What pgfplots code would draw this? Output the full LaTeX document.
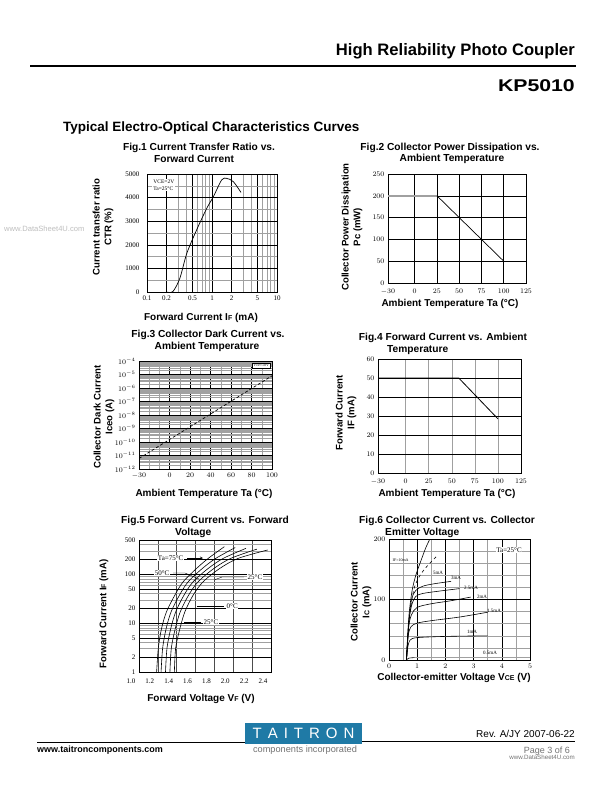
\documentclass[border=0pt]{standalone}
\usepackage{pgfplots}
\pgfplotsset{compat=1.18}
\usepackage{fontspec}
\setmainfont{Liberation Sans}
\newfontfamily\tickfont{Liberation Serif}
\definecolor{taiblue}{RGB}{31,122,166}
\definecolor{gridgray}{RGB}{160,160,160}

\pgfplotsset{
  sheet/.style={
    scale only axis, anchor=north west,
    axis line style={black, line width=0.8pt},
    tick style={draw=none},
    tick label style={font=\tickfont\fontsize{7}{8}\selectfont},
    major grid style={black, line width=0.5pt},
    minor grid style={gridgray, line width=0.5pt},
    every axis plot/.append style={black, line width=0.6pt, mark=none},
  },
}
\newcommand{\ftitle}{\bfseries\fontsize{10.2}{12}\selectfont}
\newcommand{\flabel}{\bfseries\fontsize{9.6}{11.8}\selectfont}
\newcommand{\xlab}{\bfseries\fontsize{10}{12}\selectfont}
\newcommand{\sm}[1]{{\fontsize{7}{8}\selectfont #1}}

\begin{document}
\begin{tikzpicture}[x=1pt,y=1pt]
\useasboundingbox (0,0) rectangle (612,-792);
\fill[white] (0,0) rectangle (612,-792);

% page header
\node[anchor=base east, inner sep=0, font=\bfseries\fontsize{16.6}{18}\selectfont] at (575,-56) {High Reliability Photo Coupler};
\draw[line width=1.6pt] (30,-66) -- (576,-66);
\node[anchor=base east, inner sep=0, font=\bfseries\fontsize{17}{19}\selectfont] at (575,-92) {\scalebox{1.25}[1]{KP5010}};
\node[anchor=base west, inner sep=0, font=\bfseries\fontsize{13.5}{15}\selectfont] at (63,-131) {Typical Electro-Optical Characteristics Curves};
\node[anchor=base west, inner sep=0, text=black!25, font=\fontsize{7.6}{8}\selectfont] at (4,-231) {www.DataSheet4U.com};

% ---------- Fig.1 ----------
\node[anchor=base, inner sep=0, font=\ftitle] at (199,-150) {Fig.1 Current Transfer Ratio vs.};
\node[anchor=base, inner sep=0, font=\ftitle] at (194,-162) {Forward Current};
\node[rotate=90, align=center, font=\flabel] at (103,-227) {Current transfer ratio\\CTR (\%)};
\node[anchor=base, inner sep=0, font=\xlab] at (201,-320) {Forward Current I\sm{F} (mA)};
\begin{axis}[sheet, at={(147pt,-174pt)}, width=130pt, height=118pt,
  xmode=log, xmin=0.1, xmax=10, ymin=0, ymax=5000,
  xtick={0.1,0.2,0.5,1,2,5,10}, xticklabels={0.1,0.2,0.5,1,2,5,10},
  minor xtick={0.3,0.4,0.6,0.7,0.8,0.9,3,4,6,7,8,9},
  ytick={0,1000,2000,3000,4000,5000},
  yticklabels={0,1000,2000,3000,4000,5000},
  yticklabel style={xshift=-4pt},
  minor ytick={500,1500,2500,3500,4500},
  grid=both]
\addplot[smooth, line width=0.7pt] coordinates {
  (0.20,0) (0.25,20) (0.32,580) (0.41,1640) (0.58,2630) (0.83,3545)
  (1.05,4040) (1.41,4750) (1.68,4815) (2.13,4675) (2.79,4220)};
\node[anchor=north west, align=left, fill=white, inner sep=1pt, font=\tickfont\fontsize{5.5}{6.5}\selectfont]
  at (rel axis cs:0.04,0.96) {VCE=2V\\Ta=25°C};
\end{axis}

% ---------- Fig.2 ----------
\node[anchor=base, inner sep=0, font=\ftitle] at (450,-150) {Fig.2 Collector Power Dissipation vs.};
\node[anchor=base, inner sep=0, font=\ftitle] at (452,-161) {Ambient Temperature};
\node[rotate=90, align=center, font=\flabel] at (352,-227) {Collector Power Dissipation\\Pc (mW)};
\node[anchor=base, inner sep=0, font=\xlab] at (450,-306) {Ambient Temperature Ta (°C)};
\begin{axis}[sheet, at={(388pt,-174pt)}, width=138pt, height=109pt,
  xmin=-30, xmax=125, ymin=0, ymax=250,
  xtick={-30,0,25,50,75,100,125}, ytick={0,50,100,150,200,250},
  xticklabel style={yshift=-2pt},
  grid=major]
\addplot[gridgray, line width=1.5pt] coordinates {(-30,200) (25,200)};
\addplot[line width=0.7pt] coordinates {(25,200) (100,50)};
\end{axis}

% ---------- Fig.3 ----------
\node[anchor=base, inner sep=0, font=\ftitle] at (208,-337) {Fig.3 Collector Dark Current vs.};
\node[anchor=base, inner sep=0, font=\ftitle] at (207,-349) {Ambient Temperature};
\node[rotate=90, align=center, font=\flabel] at (104,-417) {Collector Dark Current\\Iceo (A)};
\node[anchor=base, inner sep=0, font=\xlab] at (204,-496) {Ambient Temperature Ta (°C)};
\begin{axis}[sheet, at={(139pt,-361pt)}, width=133pt, height=108pt,
  ymode=log, xmin=-30, xmax=100, ymin=1e-12, ymax=1e-4,
  xtick={-30,0,20,40,60,80,100}, minor xtick={-20,-10,10,30,50,70,90},
  ytick={1e-12,1e-11,1e-10,1e-9,1e-8,1e-7,1e-6,1e-5,1e-4},
  grid=both]
\addplot[densely dashed, line width=0.7pt] coordinates {(-30,6e-12) (100,8e-6)};
\node[anchor=north east, draw=black, fill=white, inner sep=1.5pt, font=\tickfont\fontsize{4}{5}\selectfont]
  at (rel axis cs:0.99,0.985) {Vce=10V};
\end{axis}

% ---------- Fig.4 ----------
\node[anchor=base, inner sep=0, font=\ftitle] at (443,-340) {Fig.4 Forward Current vs. Ambient};
\node[anchor=base west, inner sep=0, font=\ftitle] at (387,-352) {Temperature};
\node[rotate=90, align=center, font=\flabel] at (346,-413) {Forward Current\\IF (mA)};
\node[anchor=base, inner sep=0, font=\xlab] at (447,-496) {Ambient Temperature Ta (°C)};
\begin{axis}[sheet, at={(378pt,-359pt)}, width=143pt, height=114pt,
  xmin=-30, xmax=125, ymin=0, ymax=60,
  xtick={-30,0,25,50,75,100,125}, ytick={0,10,20,30,40,50,60},
  xticklabel style={yshift=-2pt},
  grid=major, x grid style={gridgray, line width=0.6pt}]
\addplot[line width=0.8pt] coordinates {(-30,50) (57.5,50) (100,28.5)};
\end{axis}

% ---------- Fig.5 ----------
\node[anchor=base, inner sep=0, font=\ftitle] at (205,-523) {Fig.5 Forward Current vs. Forward};
\node[anchor=base west, inner sep=0, font=\ftitle] at (175,-535) {Voltage};
\node[rotate=90, font=\flabel] at (104,-614) {Forward Current I\sm{F} (mA)};
\node[anchor=base, inner sep=0, font=\xlab] at (201,-701) {Forward Voltage V\sm{F} (V)};
\begin{axis}[sheet, at={(139pt,-540pt)}, width=132pt, height=132pt,
  ymode=log, xmin=1.0, xmax=2.4, ymin=1, ymax=500,
  xtick={1.0,1.2,1.4,1.6,1.8,2.0,2.2,2.4},
  xticklabels={1.0,1.2,1.4,1.6,1.8,2.0,2.2,2.4},
  xticklabel style={xshift=-8pt, yshift=-3pt},
  ytick={1,2,5,10,20,50,100,200,500},
  yticklabels={1,2,5,10,20,50,100,200,500},
  minor ytick={3,4,6,7,8,9,30,40,60,70,80,90,300,400},
  grid=both, x grid style={black!70}]
% Ta = 75, 50, 25, 0, -25 C
\addplot[smooth] coordinates {(1.187,1) (1.205,3.1) (1.240,7.9) (1.293,17.3) (1.382,37.8) (1.470,70.6) (1.612,132) (1.735,211) (1.905,365)};
\addplot[smooth] coordinates {(1.234,1) (1.251,3.1) (1.289,7.9) (1.342,17.3) (1.431,37.8) (1.523,70.6) (1.674,132) (1.815,211) (2.020,350)};
\addplot[smooth] coordinates {(1.281,1) (1.297,3.1) (1.338,7.9) (1.391,17.3) (1.479,37.8) (1.576,70.6) (1.736,132) (1.894,211) (2.135,338)};
\addplot[smooth] coordinates {(1.328,1) (1.343,3.1) (1.386,7.9) (1.439,17.3) (1.528,37.8) (1.629,70.6) (1.797,132) (1.974,211) (2.250,325)};
\addplot[smooth] coordinates {(1.375,1) (1.389,3.1) (1.435,7.9) (1.488,17.3) (1.576,37.8) (1.682,70.6) (1.859,132) (2.053,211) (2.365,313)};
\end{axis}
\begin{scope}[font=\tickfont\fontsize{7}{8}\selectfont]
\node[anchor=east, inner sep=0.5pt, fill=white] at (184,-558) {Ta=75°C};
\draw[->, >=stealth] (187,-558) -- (203,-558);
\node[anchor=east, inner sep=0.5pt, fill=white] at (170,-573) {50°C};
\draw (173,-573) -- (185,-573) -- (199,-579);
\node[anchor=west, inner sep=0.5pt, fill=white] at (247,-577) {25°C};
\draw (244,-577) -- (222,-577) -- (214,-580);
\node[anchor=west, inner sep=0.5pt, fill=white] at (226,-606) {0°C};
\draw (224,-606) -- (197,-606);
\node[anchor=west, inner sep=0.5pt, fill=white] at (203,-622) {25°C};
\draw (201,-622) -- (184,-622);
\end{scope}

% ---------- Fig.6 ----------
\node[anchor=base, inner sep=0, font=\ftitle] at (447,-523) {Fig.6 Collector Current vs. Collector};
\node[anchor=base west, inner sep=0, font=\ftitle] at (385,-535) {Emitter Voltage};
\node[rotate=90, align=center, font=\flabel] at (361,-602) {Collector Current\\I\sm{C} (mA)};
\node[anchor=base, inner sep=0, font=\xlab] at (454,-680) {Collector-emitter Voltage V\sm{CE} (V)};
\begin{axis}[sheet, at={(389pt,-539pt)}, width=141pt, height=121pt,
  xmin=0, xmax=5, ymin=0, ymax=200,
  xtick={0,1,2,3,4,5}, minor xtick={0.5,1.5,2.5,3.5,4.5},
  ytick={0,100,200}, minor ytick={20,40,60,80,120,140,160,180},
  grid=both]
\addplot[smooth] coordinates {(0.62,0) (0.66,40) (0.72,80) (0.82,115) (0.95,140) (1.1,160) (1.3,185) (1.45,200)};
\addplot[smooth, dashed] coordinates {(0.62,0) (0.68,50) (0.78,90) (0.9,120) (1.1,140) (1.35,155) (1.7,172)};
\addplot[smooth] coordinates {(0.62,0) (0.7,60) (0.8,100) (0.95,115) (1.2,122) (1.6,126) (2.2,130)};
\addplot[smooth] coordinates {(0.62,0) (0.7,60) (0.8,90) (0.95,105) (1.2,110) (1.8,114) (2.5,118)};
\addplot[smooth] coordinates {(0.62,0) (0.7,55) (0.8,75) (1.0,87) (1.5,93) (2.2,98) (2.9,104)};
\addplot[smooth] coordinates {(0.62,0) (0.68,40) (0.78,55) (1.0,61) (1.5,65) (2.5,71) (3.5,79)};
\addplot[smooth] coordinates {(0.62,0) (0.66,20) (0.75,33) (1.0,37) (2.0,39) (3.5,40)};
\addplot[line width=1.2pt, gridgray] coordinates {(0.9,4) (5,4)};
\addplot[smooth] coordinates {(0.62,0) (0.7,3) (0.9,4)};
\end{axis}
\begin{scope}[font=\tickfont\fontsize{5}{6}\selectfont, inner sep=0.5pt]
\node at (438,-573) {5mA};
\node at (456,-578) {3mA};
\node at (471,-588) {2.5mA};
\node at (482,-597) {2mA};
\node at (494,-611) {1.5mA};
\node at (472,-632) {1mA};
\node at (490,-653) {0.5mA};
\node[font=\tickfont\fontsize{4}{5}\selectfont, anchor=west] at (392,-560) {IF=10mA};
\node[font=\tickfont\fontsize{7}{8}\selectfont, fill=white] at (509,-550) {Ta=25°C};
\end{scope}

% ---------- footer ----------
\node[anchor=base east, inner sep=0, font=\fontsize{10}{11}\selectfont] at (575,-737) {Rev. A/JY 2007-06-22};
\draw[line width=1pt] (37,-742) -- (245,-742);
\draw[line width=1pt] (362,-741) -- (575,-741);
\fill[taiblue] (245,-723) rectangle (362,-744);
\node[text=white, font=\fontsize{15}{16}\selectfont, inner sep=0] at (303.5,-733.5) {T\hspace{6pt}A\hspace{6pt}I\hspace{6pt}T\hspace{6pt}R\hspace{6pt}O\hspace{6pt}N};
\node[anchor=base, inner sep=0, text=black!55, font=\fontsize{9.2}{10}\selectfont] at (305,-752) {components incorporated};
\node[anchor=base west, inner sep=0, font=\bfseries\fontsize{9}{10}\selectfont] at (37,-752) {www.taitroncomponents.com};
\node[anchor=base east, inner sep=0, text=black!55, font=\fontsize{9}{10}\selectfont] at (570,-753) {Page 3 of 6};
\node[anchor=base east, inner sep=0, text=black!55, font=\fontsize{6.2}{7}\selectfont] at (575,-759) {www.DataSheet4U.com};
\end{tikzpicture}
\end{document}
